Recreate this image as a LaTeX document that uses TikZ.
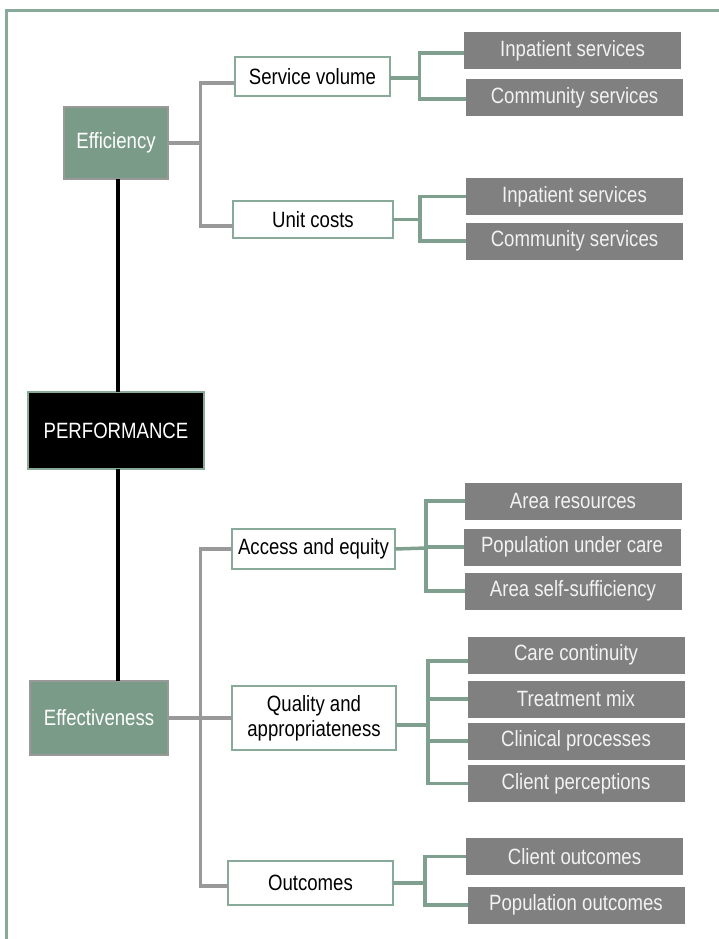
\documentclass[tikz,border=0pt]{standalone}
\usepackage{fontspec}
\setmainfont[FakeStretch=0.84]{Liberation Sans}
\usetikzlibrary{calc}
\definecolor{sage}{HTML}{7B9B89}
\definecolor{sageframe}{HTML}{88AA98}
\definecolor{sageline}{HTML}{7FA08E}
\definecolor{leafgray}{HTML}{808080}
\definecolor{linegray}{HTML}{999999}
\tikzset{
  x=0.75pt, y=-0.75pt,
  every node/.style={font=\fontsize{16.6}{18.5}\selectfont, inner sep=0pt, outer sep=0pt, align=center},
  mainbox/.style={rectangle, fill=sage, draw=linegray, line width=2pt, text=white},
  perfbox/.style={rectangle, fill=black, draw=sageframe, line width=2pt, text=white},
  subbox/.style={rectangle, fill=white, draw=sageframe, line width=1.2pt, text=black},
  leaf/.style={rectangle, fill=leafgray, text=white!95!black, minimum width=162.75pt, minimum height=27.75pt},
  gc/.style={draw=linegray, line width=2.6pt},
  grc/.style={draw=sageline, line width=2.6pt},
  bl/.style={draw=black, line width=2.5pt},
  frameline/.style={draw=sageframe, line width=2.4pt}
}
\begin{document}
\begin{tikzpicture}
\useasboundingbox (0,0) rectangle (718,939);
\fill[white] (0,0) rectangle (718,939);
\draw[frameline] (6.5,950) -- (6.5,10.5) -- (730,10.5);

% main nodes
\node[mainbox, minimum width=78pt, minimum height=54pt] (eff) at (116,143) {Efficiency};
\node[perfbox, minimum width=132pt, minimum height=57.75pt] (perf) at (116,430.5) {PERFORMANCE};
\node[mainbox, minimum width=103.5pt, minimum height=55.5pt] (effv) at (99,718) {Effectiveness};

% sub nodes
\node[subbox, minimum width=116.25pt, minimum height=29.25pt] (sv) at (312.5,76.5) {Service volume};
\node[subbox, minimum width=119.6pt, minimum height=27.75pt] (uc) at (313,219.5) {Unit costs};
\node[subbox, minimum width=122.25pt, minimum height=30pt] (ae) at (313.5,549) {Access and equity};
\node[subbox, minimum width=123.4pt, minimum height=48pt] (qa) at (314,718) {Quality and\\appropriateness};
\node[subbox, minimum width=123.75pt, minimum height=33pt] (oc) at (310.5,883) {Outcomes};

% leaves
\node[leaf] (is1) at (572.5,50.5) {Inpatient services};
\node[leaf] (cs1) at (574.5,97.5) {Community services};
\node[leaf] (is2) at (574.5,196.5) {Inpatient services};
\node[leaf] (cs2) at (574.5,241) {Community services};
\node[leaf] (ar) at (573,501) {Area resources};
\node[leaf] (pu) at (572,547) {Population under care};
\node[leaf] (as) at (573,591) {Area self-sufficiency};
\node[leaf] (cc) at (576,655) {Care continuity};
\node[leaf] (tm) at (576,699) {Treatment mix};
\node[leaf] (cp) at (576,741) {Clinical processes};
\node[leaf] (cl) at (576,783.5) {Client perceptions};
\node[leaf] (co) at (574.5,856.5) {Client outcomes};
\node[leaf] (po) at (576,905) {Population outcomes};

% black spine
\draw[bl] (eff.south -| 118,0) -- (perf.north -| 118,0);
\draw[bl] (perf.south -| 118,0) -- (effv.north -| 118,0);

% gray connectors: efficiency
\coordinate (gb1) at (200.5,143);
\draw[gc] (eff.east) -- (gb1);
\draw[gc] ($(sv.west)+(0,6.5)$) -| (gb1) |- ($(uc.west)+(0,6.5)$);

% gray connectors: effectiveness
\coordinate (gb2) at (200.5,718);
\draw[gc] (effv.east) -- (qa.west);
\draw[gc] (ae.west) -| (gb2) |- ($(oc.west)+(0,3)$);

% green connectors
\coordinate (b1) at (419.5,78);
\draw[grc] ($(sv.east)+(0,1.5)$) -- (b1);
\draw[grc] ($(is1.west)+(0,2.5)$) -| (b1) |- ($(cs1.west)+(0,1.5)$);

\coordinate (b2) at (420,219.5);
\draw[grc] (uc.east) -- (b2);
\draw[grc] (is2.west) -| (b2) |- (cs2.west);

\coordinate (b3) at (426,548);
\draw[grc] (ae.east) -- (b3);
\draw[grc] (ar.west) -| (b3) |- (as.west);
\draw[grc] (pu.west -| b3) -- (pu.west);

\coordinate (b4) at (428,725);
\draw[grc] ($(qa.east)+(0,7)$) -- (b4);
\draw[grc] ($(cc.west)+(0,6)$) -| (b4) |- (cl.west);
\draw[grc] (tm.west -| b4) -- (tm.west);
\draw[grc] (cp.west -| b4) -- (cp.west);

\coordinate (b5) at (425,883);
\draw[grc] (oc.east) -- (b5);
\draw[grc] (co.west) -| (b5) |- (po.west);
\end{tikzpicture}
\end{document}
